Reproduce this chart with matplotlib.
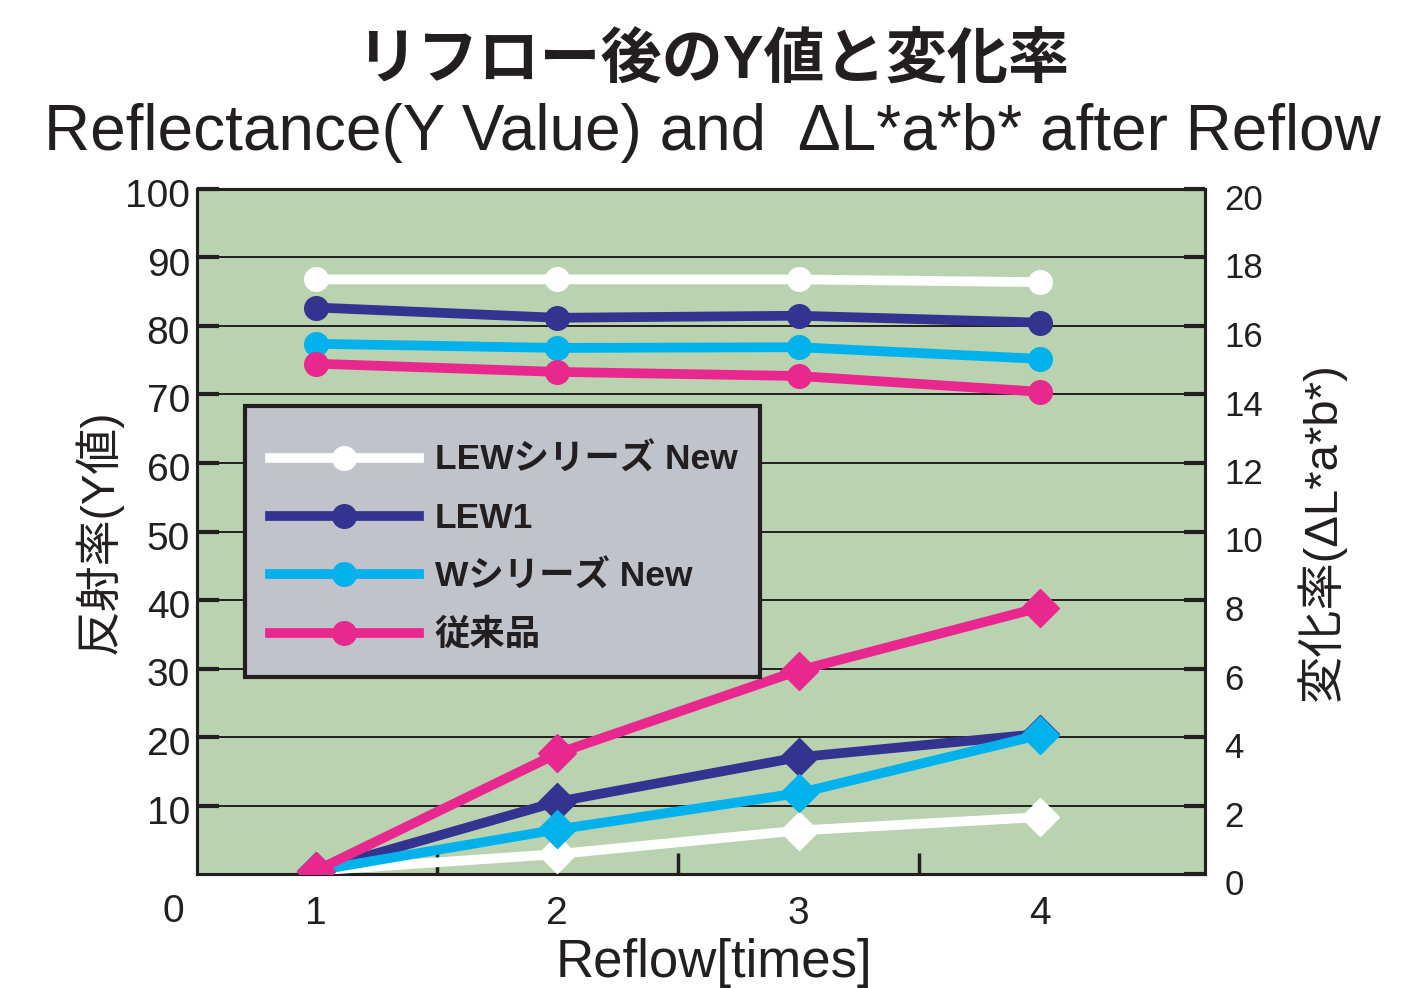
import matplotlib
matplotlib.use("Agg")
import matplotlib.pyplot as plt
from matplotlib.lines import Line2D
from matplotlib.patches import Rectangle
from matplotlib.transforms import ScaledTranslation

plt.rcParams['font.family'] = ['Liberation Sans', 'Noto Sans CJK JP', 'DejaVu Sans']

reflow = [1, 2, 3, 4]
series = ['LEWシリーズ New', 'LEW1', 'Wシリーズ New', '従来品']
colors = ['#ffffff', '#32348f', '#00b1ec', '#e8288e']

# Y value (left axis)
y_value = [
    [86.8, 86.8, 86.8, 86.4],
    [82.7, 81.2, 81.5, 80.5],
    [77.4, 76.8, 76.9, 75.2],
    [74.5, 73.3, 72.7, 70.4],
]
# delta L*a*b* (right axis)
delta_lab = [
    [0.1, 0.58, 1.27, 1.66],
    [0.1, 2.11, 3.41, 4.09],
    [0.1, 1.30, 2.36, 4.06],
    [0.1, 3.52, 5.94, 7.78],
]

left_ticks = [10, 20, 30, 40, 50, 60, 70, 80, 90, 100]
right_ticks = [0, 2, 4, 6, 8, 10, 12, 14, 16, 18, 20]

ink = '#231f20'
bg = '#b9d3b0'

fig = plt.figure(figsize=(14.25, 9.88), dpi=100)
ax = fig.add_axes([197/1425, 1-874/988, 1008/1425, 685/988])
ax.set_facecolor(bg)
ax.set_xlim(0.506, 4.685)
ax.set_ylim(0, 100)

for v in left_ticks[:-1]:
    ax.axhline(v, color=ink, lw=1.4, zorder=1)

ax2 = ax.twinx()
ax2.set_ylim(0, 20)

for vals, c in zip(y_value, colors):
    ax.plot(reflow, vals, color=c, lw=7, marker='o', ms=17, zorder=3)
for vals, c in zip(delta_lab, colors):
    ax2.plot(reflow, vals, color=c, lw=7, marker='D', ms=19, zorder=3)

for a in (ax, ax2):
    for s in a.spines.values():
        s.set_linewidth(2.2)
        s.set_color(ink)

ax.set_xticks(reflow)
ax.set_xticklabels([str(r) for r in reflow])
ax.set_xticks([1.5, 2.5, 3.5], minor=True)
ax.tick_params(axis='x', which='major', length=0, labelsize=28, pad=16, colors=ink)
ax.tick_params(axis='x', which='minor', direction='in', length=15, width=2.5, color=ink)
ax.set_yticks(left_ticks)
ax.tick_params(axis='y', direction='in', length=16, width=3, labelsize=28, pad=5, colors=ink)
ax2.set_yticks(right_ticks)
ax2.tick_params(axis='y', direction='in', length=15, width=3, labelsize=25, pad=14, colors=ink)

# the printed labels sit a little below their ticks
down_l = ScaledTranslation(0, -4/100, fig.dpi_scale_trans)
down_r = ScaledTranslation(0, -8/100, fig.dpi_scale_trans)
for lab in ax.get_yticklabels():
    lab.set_transform(lab.get_transform() + down_l)
for lab in ax2.get_yticklabels():
    lab.set_transform(lab.get_transform() + down_r)

fig.text(173/1425, 1-912/988, '0', fontsize=28, color=ink, ha='center', va='center')

ax.set_xlabel('Reflow[times]', fontsize=38, color=ink)
ax.xaxis.set_label_coords(0.513, -0.094)
ax.set_ylabel('反射率(Y値)', fontsize=33, color=ink, labelpad=2)
ax2.set_ylabel('変化率(ΔL*a*b*)', fontsize=34, color=ink, labelpad=24)

fig.text(0.5, 1-62/988, 'リフロー後のY値と変化率', fontsize=44, fontweight='bold',
         color=ink, ha='center', va='center')
fig.text(0.5, 1-133/988, 'Reflectance(Y Value) and  ΔL*a*b* after Reflow', fontsize=46,
         color=ink, ha='center', va='center')

# legend box drawn separately so its padding can differ from the entry layout
ax2.add_patch(Rectangle((0.0476, 0.2876), 0.511, 0.3956, transform=ax2.transAxes,
                        facecolor='#c0c3ca', edgecolor=ink, lw=3, zorder=4))
handles = [Line2D([], [], color=c, lw=7, marker='o', ms=17) for c in colors]
leg = ax2.legend(handles, series, loc='upper left', bbox_to_anchor=(0.0724, 0.628),
                 borderaxespad=0, borderpad=0, frameon=False, handlelength=4.2,
                 labelspacing=0.71, handletextpad=0.45,
                 prop={'weight': 'bold', 'size': 25.5})
leg.set_zorder(5)
for t in leg.get_texts():
    t.set_color(ink)

fig.savefig('out.png', dpi=100)
